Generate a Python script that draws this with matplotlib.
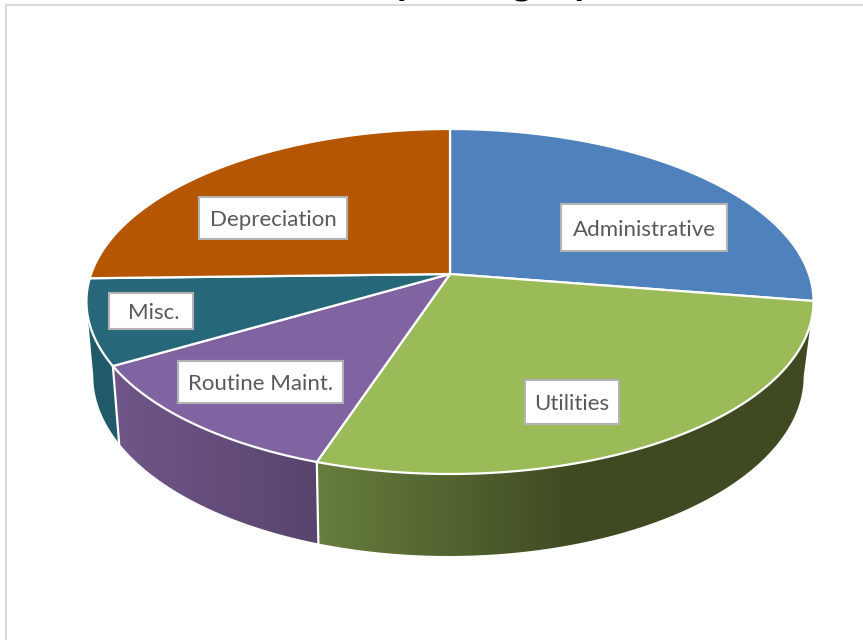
"""3D style pie of expense shares, drawn from projected wedges."""

import matplotlib

matplotlib.use("Agg")
import matplotlib.pyplot as plt
import numpy as np
from matplotlib.colors import LinearSegmentedColormap
from matplotlib.patches import Polygon, Rectangle

# Chart values, clockwise from twelve o'clock (percent)
categories = ["Administrative", "Utilities", "Routine Maint.", "Misc.", "Depreciation"]
shares = [27.5, 27.6, 11.5, 8.0, 25.4]
top_colors = ["#4f81bd", "#9bbb59", "#8064a2", "#27677a", "#b45602"]
title = "Cost by Category"

# Side wall shading: color stops and the pixel range they run over
side_shades = {
    "Utilities": (["#677e3e", "#3f4a22"], 318, 575),
    "Routine Maint.": (["#705689", "#58446d"], 112, 318),
    "Misc.": (["#215a69", "#215a69"], 85, 125),
}

# Label boxes in pixels: left, top, right, bottom
label_boxes = {
    "Administrative": (561, 204, 727, 251),
    "Utilities": (525, 380, 619, 424),
    "Routine Maint.": (178, 361, 343, 403),
    "Misc.": (109, 293, 193, 329),
    "Depreciation": (199, 197, 347, 239),
}
label_nudge = {"Misc.": 3}

# Projection of the disc onto the picture
CX, CY = 450, 274
PERSPECTIVE = 0.1594
HALF_W, HALF_H = 358.9, 168.1
BOTTOM_CX, BOTTOM_CY = 448.5, 347.3
BOTTOM_SX, BOTTOM_SY = 0.977, 1.0435


def project(deg, bottom=False):
    """Map clockwise angles on the disc to picture pixels."""
    rad = np.radians(deg)
    u, v = np.sin(rad), np.cos(rad)
    px = HALF_W * u / (1 + PERSPECTIVE * v)
    py = HALF_H * v / (1 + PERSPECTIVE * v)
    if bottom:
        return BOTTOM_CX + BOTTOM_SX * px, BOTTOM_CY - BOTTOM_SY * py
    return CX + px, CY - py


def draw_side(ax, name, start, end):
    """Draw one shaded wall between two angles, cut to the visible front."""
    limit = np.degrees(np.arcsin(PERSPECTIVE))
    start, end = max(start, 90 + limit), min(end, 270 - limit)
    if start >= end or name not in side_shades:
        return
    angles = np.linspace(start, end, 120)
    top_x, top_y = project(angles)
    low_x, low_y = project(angles, bottom=True)
    outline = np.column_stack(
        [np.r_[top_x, low_x[::-1]], np.r_[top_y, low_y[::-1]]]
    )
    stops, x0, x1 = side_shades[name]
    cmap = LinearSegmentedColormap.from_list(name, stops)
    left, right = outline[:, 0].min(), outline[:, 0].max()
    ramp = np.clip((np.linspace(left, right, 512) - x0) / (x1 - x0), 0, 1)
    image = ax.imshow(
        ramp[None, :],
        extent=[left, right, outline[:, 1].max(), outline[:, 1].min()],
        cmap=cmap,
        vmin=0,
        vmax=1,
        aspect="auto",
        zorder=2,
    )
    patch = Polygon(outline, closed=True, transform=ax.transData)
    image.set_clip_path(patch)


fig = plt.figure(figsize=(8.63, 6.40), dpi=100)
ax = fig.add_axes([0, 0, 1, 1])

# Chart frame, only its top and left edges fall inside the crop
ax.plot([6, 6], [640, 5], color="#d9d9d9", lw=1.5, zorder=1)
ax.plot([6, 863], [5, 5], color="#d9d9d9", lw=1.5, zorder=1)

edges = np.r_[0, np.cumsum(shares)] / np.sum(shares) * 360

for name, start, end in zip(categories, edges[:-1], edges[1:]):
    draw_side(ax, name, start, end)

# White seams between the walls
for deg in edges[2:4]:
    x_top, y_top = project(deg)
    x_low, y_low = project(deg, bottom=True)
    ax.plot([x_top, x_low], [y_top, y_low], color="white", lw=1.6, zorder=3)

# Top face wedges
for color, start, end in zip(top_colors, edges[:-1], edges[1:]):
    rim_x, rim_y = project(np.linspace(start, end, 160))
    points = np.column_stack([np.r_[CX, rim_x], np.r_[CY, rim_y]])
    ax.add_patch(
        Polygon(points, closed=True, facecolor=color, edgecolor="white", lw=1.6, zorder=4)
    )

# Labels sit in white boxes with a grey outline
for name in categories:
    x0, y0, x1, y1 = label_boxes[name]
    ax.add_patch(
        Rectangle((x0, y0), x1 - x0, y1 - y0, facecolor="white", edgecolor="#b3b3b3", lw=1.5, zorder=5)
    )
    ax.text(
        (x0 + x1) / 2 + label_nudge.get(name, 0),
        (y0 + y1) / 2 + 2,
        name,
        family="Lato",
        fontsize=16,
        color="#595959",
        ha="center",
        va="center",
        zorder=6,
    )

# Title is cut by the crop, only its descenders show
ax.text(435, -6.5, title, family="Lato", fontweight="bold", fontsize=29.5, color="black", ha="center", va="baseline", clip_on=False)

ax.set_xlim(0, 863)
ax.set_ylim(640, 0)
ax.axis("off")

fig.savefig("out.png", dpi=100)
